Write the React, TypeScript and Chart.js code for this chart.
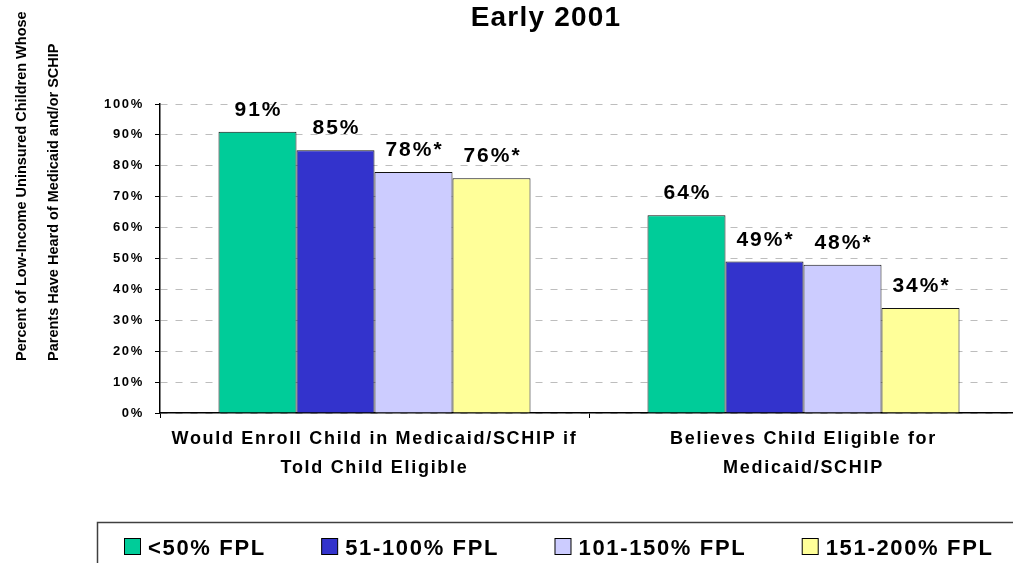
import React, { useEffect, useRef } from "react";
import { Chart, registerables } from "chart.js";

Chart.register(...registerables);

const FONT = '"Liberation Sans", Arial, Helvetica, sans-serif';

const chartTitle = "Early 2001";
const yTitleLines = [
  "Percent of Low-Income Uninsured Children Whose",
  "Parents Have Heard of Medicaid and/or SCHIP",
];
const categories = [
  ["Would Enroll Child in Medicaid/SCHIP if", "Told Child Eligible"],
  ["Believes Child Eligible for", "Medicaid/SCHIP"],
];
const seriesNames = ["<50% FPL", "51-100% FPL", "101-150% FPL", "151-200% FPL"];
const seriesColors = ["#00CC99", "#3333CC", "#CCCCFF", "#FFFF99"];
const fplUnder50 = [91, 64];
const fpl51to100 = [85, 49];
const fpl101to150 = [78, 48];
const fpl151to200 = [76, 34];
const starUnder50 = [false, false];
const star51to100 = [false, true];
const star101to150 = [true, true];
const star151to200 = [true, true];
const yTicks = [0, 10, 20, 30, 40, 50, 60, 70, 80, 90, 100];

const seriesValues = [fplUnder50, fpl51to100, fpl101to150, fpl151to200];
const seriesStars = [starUnder50, star51to100, star101to150, star151to200];

const customPlugin = {
  id: "customText",
  beforeDraw(chart: any) {
    chart.ctx.letterSpacing = "1.7px";
  },
  afterDraw(chart: any) {
    const ctx = chart.ctx as CanvasRenderingContext2D;
    ctx.save();
    ctx.fillStyle = "#000";

    // Title
    ctx.letterSpacing = "1.2px";
    ctx.font = `bold 28px ${FONT}`;
    ctx.textAlign = "center";
    ctx.textBaseline = "alphabetic";
    ctx.fillText(chartTitle, 546, 26);

    // Y-axis title (rotated, left-aligned from bottom)
    ctx.letterSpacing = "0px";
    ctx.font = `bold 14.5px ${FONT}`;
    ctx.textAlign = "left";
    const baselines = [25.5, 58];
    yTitleLines.forEach((line, i) => {
      ctx.save();
      ctx.translate(baselines[i], 361);
      ctx.rotate(-Math.PI / 2);
      ctx.fillText(line, 0, 0);
      ctx.restore();
    });

    // Data labels
    ctx.letterSpacing = "2px";
    ctx.font = `bold 21px ${FONT}`;
    ctx.textAlign = "center";
    chart.data.datasets.forEach((ds: any, di: number) => {
      const meta = chart.getDatasetMeta(di);
      meta.data.forEach((bar: any, i: number) => {
        const txt = ds.data[i] + "%" + (seriesStars[di][i] ? "*" : "");
        ctx.fillText(txt, bar.x + 1, bar.y - 16);
      });
    });

    // Legend box
    ctx.letterSpacing = "0px";
    ctx.strokeStyle = "#404040";
    ctx.lineWidth = 1.5;
    ctx.strokeRect(97.5, 522.5, 1100, 100);

    // Legend items
    ctx.font = `bold 22px ${FONT}`;
    ctx.letterSpacing = "1.66px";
    ctx.textAlign = "left";
    let x = 124;
    chart.data.datasets.forEach((ds: any) => {
      ctx.fillStyle = ds.backgroundColor;
      ctx.fillRect(x + 0.5, 538.5, 16, 16);
      ctx.strokeStyle = "#000";
      ctx.lineWidth = 1;
      ctx.strokeRect(x + 0.5, 538.5, 16, 16);
      ctx.fillStyle = "#000";
      const tx = x + 24;
      ctx.fillText(ds.label, tx, 555);
      const w = ctx.measureText(ds.label).width;
      x = tx + w - 1.66 + 57;
    });

    ctx.restore();
  },
};

export default function App() {
  const ref = useRef<HTMLCanvasElement | null>(null);

  useEffect(() => {
    if (!ref.current) return;
    Chart.defaults.font.family = FONT;
    const chart = new Chart(ref.current, {
      type: "bar",
      data: {
        labels: categories,
        datasets: seriesNames.map((name, i) => ({
          label: name,
          data: seriesValues[i],
          backgroundColor: seriesColors[i],
          borderColor: "#111",
          borderWidth: 1,
          categoryPercentage: 0.7273,
          barPercentage: 1,
        })),
      },
      options: {
        animation: false,
        responsive: true,
        maintainAspectRatio: false,
        layout: { padding: { left: 0, right: 12, top: 104, bottom: 0 } },
        plugins: {
          legend: { display: false },
          title: { display: false },
          tooltip: { enabled: false },
        },
        scales: {
          x: {
            offset: true,
            grid: {
              display: true,
              offset: true,
              drawOnChartArea: false,
              drawTicks: true,
              tickLength: 5,
              tickColor: "#000",
              tickWidth: 1,
            },
            border: { display: true, color: "#000", width: 1.5 },
            ticks: {
              color: "#000",
              font: { size: 18, weight: "bold", lineHeight: 1.6 },
              padding: 7,
              maxRotation: 0,
              autoSkip: false,
            },
            afterFit(s: any) {
              s.height = 150;
            },
          },
          y: {
            min: 0,
            max: 100,
            afterBuildTicks(s: any) {
              s.ticks = yTicks.map((v) => ({ value: v }));
            },
            grid: {
              color: "#bdbdbd",
              lineWidth: 1,
              drawTicks: true,
              tickLength: 5,
              tickColor: "#000",
              tickBorderDash: [],
            },
            border: { display: true, color: "#000", width: 1.5, dash: [7, 8] },
            ticks: {
              color: "#000",
              font: { size: 13, weight: "bold" },
              padding: 11,
              callback: (v: any) => v + "%",
            },
            afterFit(s: any) {
              s.width = 160;
            },
          },
        },
      },
      plugins: [customPlugin],
    } as any);
    return () => chart.destroy();
  }, []);

  return (
    <div
      style={{
        position: "fixed",
        left: 0,
        top: 0,
        width: "100vw",
        height: "100vh",
        overflow: "hidden",
        background: "#fff",
      }}
    >
      <div style={{ position: "absolute", left: 0, top: 0, width: 1030, height: 563 }}>
        <canvas ref={ref} />
      </div>
    </div>
  );
}
